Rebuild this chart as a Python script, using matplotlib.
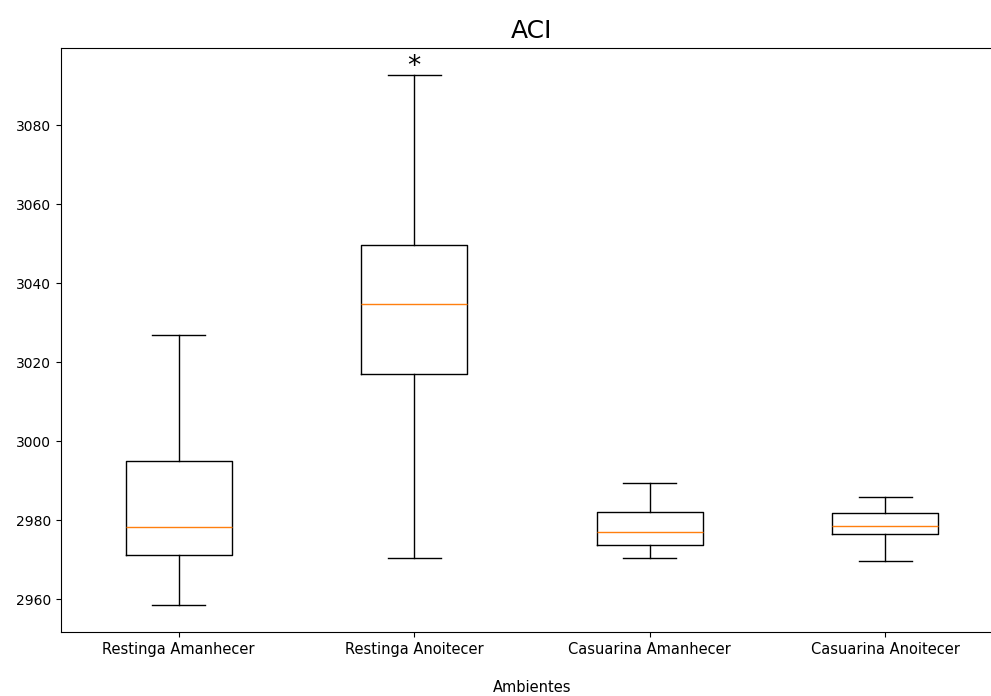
import matplotlib
matplotlib.use("Agg")
import matplotlib.pyplot as plt

# ACI summary per environment (whiskers, quartiles, median)
ambientes = ["Restinga Amanhecer", "Restinga Anoitecer",
             "Casuarina Amanhecer", "Casuarina Anoitecer"]
whislo = [2958.4, 2970.4, 2970.5, 2969.7]
q1 = [2971.2, 3017.1, 2973.8, 2976.6]
med = [2978.2, 3034.8, 2977.1, 2978.6]
q3 = [2994.9, 3049.8, 2982.1, 2981.8]
whishi = [3026.8, 3092.9, 2989.5, 2985.9]

# which box gets the significance mark
marca_idx = 1
marca = "*"


def build_stats():
    stats = []
    for i, nome in enumerate(ambientes):
        stats.append({
            "label": nome,
            "whislo": whislo[i],
            "q1": q1[i],
            "med": med[i],
            "q3": q3[i],
            "whishi": whishi[i],
            "fliers": [],
        })
    return stats


fig = plt.figure(figsize=(9.91, 6.96), dpi=100)
ax = fig.add_axes([0.0615, 0.092, 0.9506, 0.839])

ax.bxp(build_stats(), showfliers=False)
# star sits right on top of the upper whisker cap
ax.annotate(marca, (marca_idx + 1, whishi[marca_idx]), xytext=(0, -4),
            textcoords="offset points", ha="center", va="bottom", fontsize=19)

ax.tick_params(axis="x", labelsize=10.5)
ax.tick_params(axis="y", labelsize=10)
ax.set_title("ACI", fontsize=18, pad=7)
ax.set_xlabel("Ambientes", labelpad=17, fontsize=10.5)

plt.savefig("out.png", dpi=100)
